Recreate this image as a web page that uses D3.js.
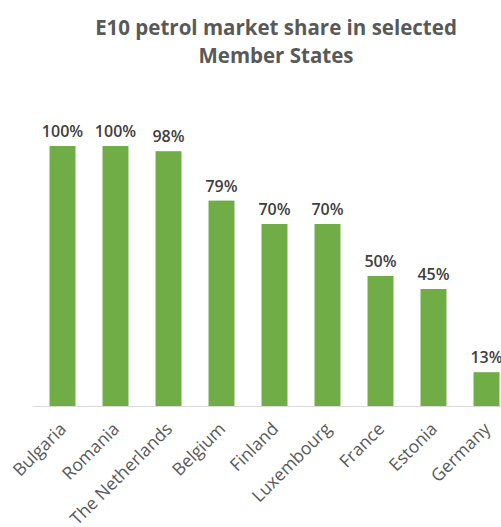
<html>
<head>
<script src="https://d3js.org/d3.v7.min.js"></script>
<style>
body { margin: 0; background: #ffffff; }
.chart text { font-family: "Open Sans", sans-serif; }
.title { font-size: 20.5px; font-weight: bold; fill: #595959; text-anchor: middle; }
.barlabel { font-size: 16px; font-weight: 600; fill: #404040; text-anchor: middle; }
.x.axis text { font-size: 17.5px; fill: #595959; }
</style>
</head>
<body>
<script type="text/javascript">

// chart data
var countries = ["Bulgaria", "Romania", "The Netherlands", "Belgium", "Finland", "Luxembourg", "France", "Estonia", "Germany"];
var shares = [100, 100, 98, 79, 70, 70, 50, 45, 13];
var titleLines = ["E10 petrol market share in selected", "Member States"];

var width = 501, height = 527;
var baseline = 406, top100 = 146;

var svg = d3.select("body").append("svg")
    .attr("width", width)
    .attr("height", height)
    .attr("class", "chart");

// title
svg.selectAll("text.title")
    .data(titleLines)
  .enter().append("text")
    .attr("class", "title")
    .attr("x", 276)
    .attr("y", function(d, i) { return 35 + i * 28; })
    .text(function(d) { return d; });

var x = d3.scaleBand()
    .domain(countries)
    .range([36, 513])
    .paddingInner(0.51)
    .paddingOuter(0.255);

var y = d3.scaleLinear()
    .domain([0, 100])
    .range([baseline, top100]);

// bars
var bar = svg.selectAll("g.bar")
    .data(d3.zip(countries, shares))
  .enter().append("g")
    .attr("class", "bar");

bar.append("rect")
    .attr("x", function(d) { return x(d[0]); })
    .attr("y", function(d) { return y(d[1]); })
    .attr("width", x.bandwidth())
    .attr("height", function(d) { return baseline - y(d[1]); })
    .attr("fill", "#70ad47");

bar.append("text")
    .attr("class", "barlabel")
    .attr("x", function(d) { return x(d[0]) + x.bandwidth() / 2; })
    .attr("y", function(d) { return y(d[1]) - 9; })
    .text(function(d) { return d[1] + "%"; });

// x axis
var xAxis = svg.append("g")
    .attr("class", "x axis")
    .attr("transform", "translate(0," + baseline + ")")
    .call(d3.axisBottom(x).tickSize(0).tickSizeOuter(0));

xAxis.select(".domain")
    .attr("stroke", "#d9d9d9")
    .attr("d", "M33,0.5H520");

xAxis.selectAll(".tick text")
    .attr("y", 0)
    .attr("dy", 0)
    .attr("text-anchor", "end")
    .attr("transform", "translate(5,24) rotate(-45)");

</script>
</body>
</html>
